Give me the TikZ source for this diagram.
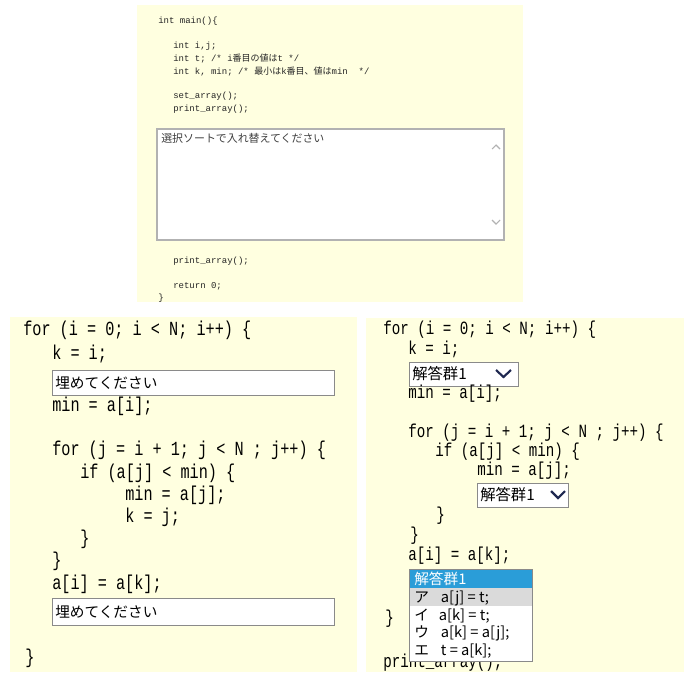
\documentclass[tikz,border=0pt]{standalone}
\usepackage{fontspec}
\setmainfont{Liberation Sans}
\newfontfamily\jpfont{Noto Sans CJK JP}
\newfontfamily\codefont[FakeStretch=0.76]{Liberation Mono}
\newfontfamily\tinycode{Liberation Mono}

\definecolor{memo}{HTML}{FFFFE0}
\definecolor{frame}{HTML}{8A8A8A}
\definecolor{pick}{HTML}{2A9DD8}
\definecolor{hover}{HTML}{DADADA}
\definecolor{arrowblue}{HTML}{1F2850}

\tikzset{
  panel/.style={fill=memo},
  line/.style={anchor=west, inner sep=0pt, text height=0.7em, text depth=0.2em},
  tiny/.style={line, text=black!85, font=\tinycode\fontsize{6.75pt}{8pt}\selectfont},
  code/.style={line, font=\codefont\fontsize{15pt}{18pt}\selectfont},
  coder/.style={line, font=\codefont\fontsize{14pt}{17pt}\selectfont},
  jp/.style={anchor=west, inner sep=0pt, text height=0.92em, text depth=0.08em,
    font=\jpfont\fontsize{11pt}{13pt}\selectfont},
  field/.style={draw=frame, fill=white, line width=0.75pt},
  chevron/.style={draw=arrowblue, line width=1.6pt},
}

\begin{document}
\begin{tikzpicture}[x=0.75pt,y=-0.75pt]
  \useasboundingbox (0,0) rectangle (684,672);

  % three code panels
  \fill[panel] (137,5) rectangle (523,302);
  \fill[panel] (10,317) rectangle (357,672);
  \fill[panel] (366,318) rectangle (684,672);

  % ---- main() overview ----
  \node[tiny] (mainhead) at (158,20) {int main()\{};
  \node[tiny] (declij) at (173,45) {int i,j;};
  \node[tiny] (declt) at (173,58) {int t; /* i{\jpfont 番目の値は}t */};
  \node[tiny] (declk) at (173,71) {int k, min; /* {\jpfont 最小は}k{\jpfont 番目、値は}min~~*/};
  \node[tiny] (setarr) at (173,95) {set\_array();};
  \node[tiny] (printa) at (173,108) {print\_array();};

  \draw[draw=black!30, fill=white, line width=1.2pt] (157,129) rectangle (504,240);
  \node[jp, text=black!75, font=\jpfont\fontsize{8.2pt}{10pt}\selectfont] (hint) at (161,137) {選択ソートで入れ替えてください};
  \draw[black!30, line width=0.8pt] (492,149) -- (496,145) -- (500,149);
  \draw[black!30, line width=0.8pt] (492,220) -- (496,224) -- (500,220);

  \node[tiny] (printb) at (173,260) {print\_array();};
  \node[tiny] (ret) at (173,285) {return 0;};
  \node[tiny] (mainend) at (158,297) {\}};

  % ---- left: text fields ----
  \node[code] (lfori) at (23,332) {for (i = 0; i < N; i++) \{};
  \node[code] (lki) at (52,356) {k = i;};
  \draw[field] (52,370) rectangle (334,395);
  \node[jp] (lblank1) at (55,382.5) {埋めてください};
  \node[code] (lmin) at (52,408) {min = a[i];};
  \node[code] (lforj) at (52,452) {for (j = i + 1; j < N ; j++) \{};
  \node[code] (lif) at (80,475) {if (a[j] < min) \{};
  \node[code] (lminj) at (125,497) {min = a[j];};
  \node[code] (lkj) at (125,519) {k = j;};
  \node[code] (lifend) at (80,541) {\}};
  \node[code] (lforjend) at (52,563) {\}};
  \node[code] (lswap) at (52,586) {a[i] = a[k];};
  \draw[field] (52,598) rectangle (334,625);
  \node[jp] (lblank2) at (55,611.5) {埋めてください};
  \node[code] (lforiend) at (25,660) {\}};

  % ---- right: drop-down lists ----
  \node[coder] (rfori) at (383,331) {for (i = 0; i < N; i++) \{};
  \node[coder] (rki) at (408,351) {k = i;};
  \draw[field] (409,362) rectangle (518,386);
  \node[jp, font=\jpfont\fontsize{11.5pt}{13pt}\selectfont] (rsel1) at (412,374) {解答群1};
  \draw[chevron] (496,370) -- (503.5,377) -- (511,370);
  \node[coder] (rmin) at (408,395) {min = a[i];};
  \node[coder] (rforj) at (408,434) {for (j = i + 1; j < N ; j++) \{};
  \node[coder] (rif) at (435,453) {if (a[j] < min) \{};
  \node[coder] (rminj) at (477,472) {min = a[j];};
  \draw[field] (477,483) rectangle (568,507);
  \node[jp, font=\jpfont\fontsize{11.5pt}{13pt}\selectfont] (rsel2) at (480,495) {解答群1};
  \draw[chevron] (551,491) -- (558,498) -- (565,491);
  \node[coder] (rifend) at (436,517) {\}};
  \node[coder] (rforjend) at (410,537) {\}};
  \node[coder] (rswap) at (408,557) {a[i] = a[k];};
  \node[coder] (rforiend) at (385,620) {\}};
  \node[coder] (rprint) at (383,664) {print\_array();};

  % opened list, drawn over the last lines
  \draw[field] (409,569) rectangle (532,661);
  \fill[pick] (410,569.5) rectangle (531.5,588);
  \fill[hover] (410,588) rectangle (531.5,606);
  \node[jp, text=white] (opthead) at (414,579) {解答群1};
  \node[jp] (opta) at (414,597) {ア\hspace{9pt}a[j] = t;};
  \node[jp] (opti) at (414,614.5) {イ\hspace{7.5pt}a[k] = t;};
  \node[jp] (optu) at (414,632) {ウ\hspace{9pt}a[k] = a[j];};
  \node[jp] (opte) at (414,649.5) {エ\hspace{9pt}t = a[k];};
\end{tikzpicture}
\end{document}
